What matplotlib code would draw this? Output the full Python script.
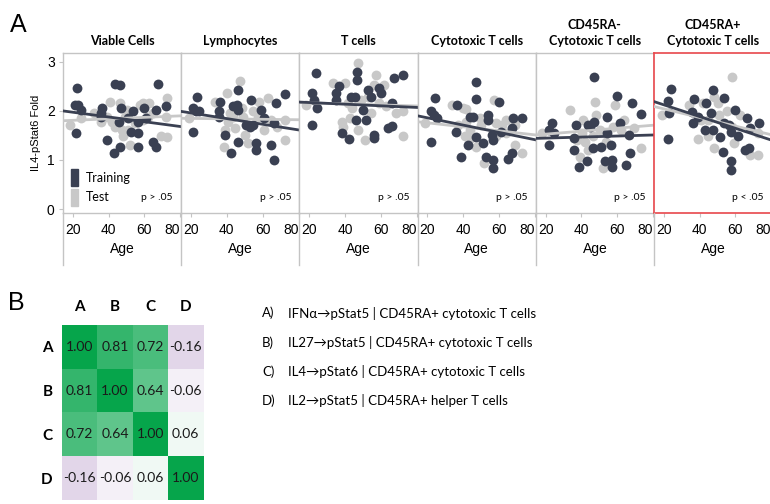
import numpy as np
import matplotlib
matplotlib.use("Agg")
import matplotlib.pyplot as plt
from matplotlib.patches import Patch
from matplotlib.lines import Line2D
from matplotlib.colors import LinearSegmentedColormap

# ---- data ----
titles = ["Viable Cells", "Lymphocytes", "T cells", "Cytotoxic T cells",
          "CD45RA-\nCytotoxic T cells", "CD45RA+\nCytotoxic T cells"]
pvals = ["p > .05", "p > .05", "p > .05", "p > .05", "p > .05", "p < .05"]

# (age, fold) pairs per panel
viable_train = [(22.4, 2.46), (21.3, 2.12), (23.1, 2.12), (24.5, 2.02), (21.8, 1.54), (36.4, 2.05),
                (35.5, 1.95), (35.5, 1.88), (39.1, 1.41), (43.6, 2.55), (46.4, 2.53), (46.9, 2.05),
                (42.7, 1.14), (46.4, 1.27), (45.5, 1.78), (50.9, 1.85), (53.6, 1.99), (52.7, 1.58),
                (56.4, 1.78), (56.4, 1.54), (56.4, 1.27), (60.0, 2.05), (60.9, 1.85), (64.5, 1.37),
                (66.4, 1.27), (66.4, 2.02), (67.3, 2.55), (72.2, 2.09)]
viable_test = [(18.2, 1.71), (40.9, 2.19), (46.4, 2.17), (41.8, 1.78), (43.6, 1.68), (47.3, 1.61),
               (48.2, 1.48), (49.1, 1.88), (51.8, 1.31), (57.3, 2.12), (59.1, 2.16), (62.7, 2.16),
               (35.5, 1.78), (61.8, 1.88), (69.1, 1.48), (72.7, 1.46), (72.7, 2.26), (50.9, 1.61),
               (54.5, 1.75), (31.8, 1.95), (50.0, 2.02), (59.1, 1.82), (64.5, 1.95), (71.8, 1.88),
               (24.5, 1.85), (39.0, 1.88)]
lymph_train = [(23.6, 2.29), (21.3, 2.05), (22.7, 1.99), (24.5, 1.99), (21.3, 1.58), (35.5, 1.99),
               (35.5, 1.88), (36.4, 2.18), (38.8, 1.51), (42.4, 1.14), (43.6, 2.09), (45.5, 2.12),
               (46.4, 2.43), (46.4, 2.02), (46.4, 1.37), (50.9, 1.71), (52.7, 1.68), (54.5, 1.71),
               (53.6, 2.22), (56.4, 1.34), (56.4, 1.20), (59.1, 2.02), (60.5, 1.85), (64.5, 1.31),
               (66.4, 1.75), (66.4, 1.01), (67.3, 2.16), (72.2, 2.34)]
lymph_test = [(18.7, 1.85), (33.3, 2.19), (40.0, 2.36), (47.3, 2.60), (43.6, 1.88), (40.9, 1.78),
              (44.5, 1.65), (39.1, 1.61), (38.2, 1.27), (49.1, 1.88), (51.8, 1.34), (58.2, 2.19),
              (57.3, 1.88), (62.7, 2.26), (64.5, 1.82), (68.2, 1.68), (72.2, 1.82), (72.2, 1.41),
              (50.0, 1.51), (48.2, 2.05), (60.9, 1.61), (41.8, 1.95), (54.5, 1.99)]
tcell_train = [(23.6, 2.77), (21.3, 2.36), (22.4, 2.22), (24.2, 2.05), (21.3, 1.71), (35.1, 2.36),
               (35.1, 2.22), (36.4, 2.50), (38.2, 1.54), (42.4, 1.42), (43.3, 2.29), (45.5, 2.29),
               (46.4, 2.80), (46.4, 2.63), (46.0, 1.82), (50.0, 2.02), (51.8, 1.82), (52.7, 2.43),
               (54.5, 2.29), (56.4, 1.51), (56.4, 1.44), (59.1, 2.46), (60.0, 2.36), (64.2, 1.65),
               (66.0, 1.69), (66.0, 2.16), (67.3, 2.67), (72.2, 2.73)]
tcell_test = [(18.2, 2.12), (33.3, 2.56), (40.0, 2.56), (47.3, 2.97), (43.6, 2.05), (42.7, 1.85),
              (38.2, 1.78), (39.1, 1.68), (47.3, 1.61), (50.9, 1.41), (49.1, 2.22), (57.3, 2.73),
              (56.4, 2.53), (61.8, 2.53), (59.1, 2.16), (62.7, 2.09), (68.2, 1.95), (72.2, 1.99),
              (72.2, 1.49), (54.5, 1.95), (52.7, 2.29), (41.8, 2.16)]
cyto_train = [(24.0, 2.26), (21.8, 1.99), (23.6, 1.92), (25.1, 1.85), (21.8, 1.37), (36.7, 2.12),
              (36.0, 1.58), (38.7, 1.07), (43.6, 1.88), (45.5, 1.88), (46.9, 2.59), (46.9, 2.24),
              (46.9, 1.46), (42.7, 1.31), (50.9, 1.34), (52.7, 1.07), (53.6, 1.92), (53.6, 1.82),
              (56.0, 1.51), (56.7, 1.41), (56.7, 1.00), (56.7, 0.83), (60.0, 2.19), (60.9, 1.58),
              (65.1, 1.03), (67.3, 1.14), (67.1, 1.65), (67.6, 1.86), (72.7, 1.85)]
cyto_test = [(18.5, 1.75), (33.6, 2.12), (41.8, 2.03), (41.8, 1.78), (40.9, 1.48), (44.5, 1.44),
             (47.3, 1.27), (50.0, 1.71), (57.3, 2.22), (58.2, 1.75), (63.6, 1.82), (63.6, 1.54),
             (69.1, 1.31), (72.7, 1.15), (51.8, 0.93), (49.1, 1.85), (37.3, 1.71), (43.6, 1.61),
             (58.2, 1.49), (61.8, 1.71), (69.1, 1.71), (40.0, 2.05)]
ramin_train = [(47.2, 2.70), (60.0, 2.31), (68.1, 2.16), (73.2, 1.94), (54.0, 1.88), (23.7, 1.75),
               (21.8, 1.61), (24.6, 1.55), (21.8, 1.31), (36.9, 1.71), (36.1, 1.44), (36.1, 1.20),
               (38.9, 0.85), (43.5, 1.71), (44.8, 1.68), (47.2, 1.78), (46.6, 1.24), (42.9, 0.97),
               (50.8, 1.27), (53.0, 0.97), (54.0, 1.55), (56.4, 1.31), (56.8, 1.00), (57.1, 0.85),
               (61.3, 1.75), (66.8, 1.51), (67.2, 1.14), (65.0, 0.90)]
ramin_test = [(17.8, 1.55), (33.8, 2.02), (41.1, 1.82), (47.5, 2.19), (47.9, 1.92), (40.2, 1.55),
              (42.0, 1.37), (39.3, 1.07), (43.9, 1.20), (52.1, 0.83), (58.5, 2.12), (57.6, 1.68),
              (63.7, 1.82), (69.5, 1.65), (73.2, 1.24), (50.3, 1.61), (53.9, 1.37), (62.2, 1.61),
              (46.6, 1.48), (37.4, 1.41)]
raplus_train = [(24.2, 2.44), (22.4, 2.21), (23.1, 1.95), (22.4, 1.42), (36.9, 2.24), (35.8, 1.97),
                (36.4, 1.75), (39.1, 1.88), (43.6, 2.16), (46.4, 1.95), (47.3, 2.43), (47.3, 1.61),
                (43.1, 1.61), (51.6, 1.47), (53.6, 2.26), (53.6, 1.76), (56.4, 1.71), (53.3, 1.17),
                (57.3, 0.97), (57.3, 0.80), (57.6, 1.58), (60.0, 2.02), (61.3, 1.49), (66.7, 1.86),
                (68.2, 1.65), (65.5, 1.20), (67.3, 1.24), (73.3, 1.75)]
raplus_test = [(19.1, 1.92), (34.0, 2.12), (41.8, 2.16), (50.0, 2.16), (58.2, 2.70), (39.1, 1.42),
               (44.5, 1.48), (48.2, 1.24), (50.9, 1.92), (55.5, 1.99), (58.2, 1.68), (59.1, 1.34),
               (62.7, 1.92), (68.2, 1.10), (72.3, 1.10), (72.3, 1.54), (40.9, 1.82), (48.2, 2.29),
               (44.5, 1.82)]

# fitted line values at the left / right panel edge
line_ages = [14.5, 80.5]
fit_train = [(2.00, 1.68), (1.99, 1.61), (2.18, 2.07), (1.90, 1.41), (1.44, 1.51), (2.19, 1.40)]
fit_test = [(1.80, 1.90), (1.85, 1.82), (2.17, 2.10), (1.78, 1.51), (1.51, 1.71), (2.09, 1.51)]

corr_labels = ["A", "B", "C", "D"]
corr = np.array([[1.00, 0.81, 0.72, -0.16],
                 [0.81, 1.00, 0.64, -0.06],
                 [0.72, 0.64, 1.00, 0.06],
                 [-0.16, -0.06, 0.06, 1.00]])
readouts = ["IFN\u03b1\u2192pStat5 | CD45RA+ cytotoxic T cells",
            "IL27\u2192pStat5 | CD45RA+ cytotoxic T cells",
            "IL4\u2192pStat6 | CD45RA+ cytotoxic T cells",
            "IL2\u2192pStat5 | CD45RA+ helper T cells"]

train_sets = [viable_train, lymph_train, tcell_train, cyto_train, ramin_train, raplus_train]
test_sets = [viable_test, lymph_test, tcell_test, cyto_test, ramin_test, raplus_test]

DARK = "#3a4052"
LIGHT = "#c8c8c8"
GRID = "#c4c4c4"
CAL = ["Lato", "DejaVu Sans"]
ARI = ["Liberation Sans", "DejaVu Sans"]

W, H = 770, 504
fig = plt.figure(figsize=(7.7, 5.04), dpi=100)

def fx(px):
    return px / W

def fy(py):
    return 1 - py / H

# ---- panel A ----
left0, pw = 63, 118.2
top, bot = 53, 213
for i in range(6):
    x0 = left0 + i * pw
    ax = fig.add_axes([fx(x0), fy(bot), fx(pw), (bot - top) / H])
    tr = np.array(train_sets[i])
    te = np.array(test_sets[i])
    ax.scatter(te[:, 0], te[:, 1], s=50, color=LIGHT, linewidths=0, zorder=2)
    ax.scatter(tr[:, 0], tr[:, 1], s=50, color=DARK, linewidths=0, zorder=3)
    ax.plot(line_ages, fit_test[i], color=LIGHT, lw=2.0, zorder=4)
    ax.plot(line_ages, fit_train[i], color=DARK, lw=2.0, zorder=5)
    ax.set_xlim(14.5, 80.5)
    ax.set_ylim(-0.08, 3.18)
    ax.set_xticks([20, 40, 60, 80])
    ax.set_xticklabels(["20", "40", "60", "80"], family=ARI, fontsize=10)
    ax.get_xticklabels()[-1].set_horizontalalignment("right")
    ax.tick_params(axis="x", length=3, color=GRID, pad=4)
    ax.set_xlabel("Age", family=ARI, fontsize=10, labelpad=4)
    ax.set_title(titles[i], family=CAL, fontweight="bold", fontsize=9, pad=6,
                 linespacing=1.35)
    ax.text(0.93, 0.1, pvals[i], transform=ax.transAxes, ha="right", va="center",
            family=CAL, fontsize=7.5)
    edge = "#e8474c" if i == 5 else GRID
    for sp in ax.spines.values():
        sp.set_color(edge)
        sp.set_linewidth(1.2 if i == 5 else 1.0)
    if i == 0:
        ax.set_yticks([0, 1, 2, 3])
        ax.set_yticklabels(["0", "1", "2", "3"], family=ARI, fontsize=10)
        ax.tick_params(axis="y", length=3, color=GRID, pad=3)
        ax.set_ylabel("IL4-pStat6 Fold", family=ARI, fontsize=8, labelpad=4)
        handles = [Patch(color=DARK), Patch(color=LIGHT)]
        ax.legend(handles, ["Training", "Test"], loc="lower left", frameon=False,
                  handlelength=0.6, handleheight=1.7, handletextpad=0.6,
                  labelspacing=0.2, borderaxespad=0.2,
                  prop={"family": CAL, "size": 9})
    else:
        ax.set_yticks([])
    # separators continuing below the axis
    fig.add_artist(Line2D([fx(x0), fx(x0)], [fy(bot), fy(265)], color=GRID, lw=1.0))

fig.text(fx(10), fy(25), "A", family=ARI, fontsize=18, va="center")

# ---- panel B ----
cmap = LinearSegmentedColormap.from_list("pg", ["#50067c", "#ffffff", "#06a54b"])
hx = fig.add_axes([fx(62), fy(500), fx(141), 175 / H])
hx.imshow(corr, cmap=cmap, vmin=-1, vmax=1, aspect="auto")
for r in range(4):
    for c in range(4):
        hx.text(c, r, "%.2f" % corr[r, c], ha="center", va="center",
                family=CAL, fontsize=10, color="#1a1a1a")
hx.xaxis.tick_top()
hx.set_xticks(range(4))
hx.set_xticklabels(corr_labels, family=CAL, fontweight="bold", fontsize=11)
hx.set_yticks(range(4))
hx.set_yticklabels(corr_labels, family=CAL, fontweight="bold", fontsize=11)
hx.tick_params(axis="y", length=0, pad=7)
hx.tick_params(axis="x", length=0, pad=8)
for sp in hx.spines.values():
    sp.set_visible(False)

fig.text(fx(8), fy(303), "B", family=ARI, fontsize=18, va="center")

for k, txt in enumerate(readouts):
    yy = fy(313 + k * 29.3)
    fig.text(fx(262), yy, corr_labels[k] + ")", family=CAL, fontsize=9.5, va="center")
    fig.text(fx(288), yy, txt, family=CAL, fontsize=9.5, va="center")

fig.savefig("out.png", dpi=100)
